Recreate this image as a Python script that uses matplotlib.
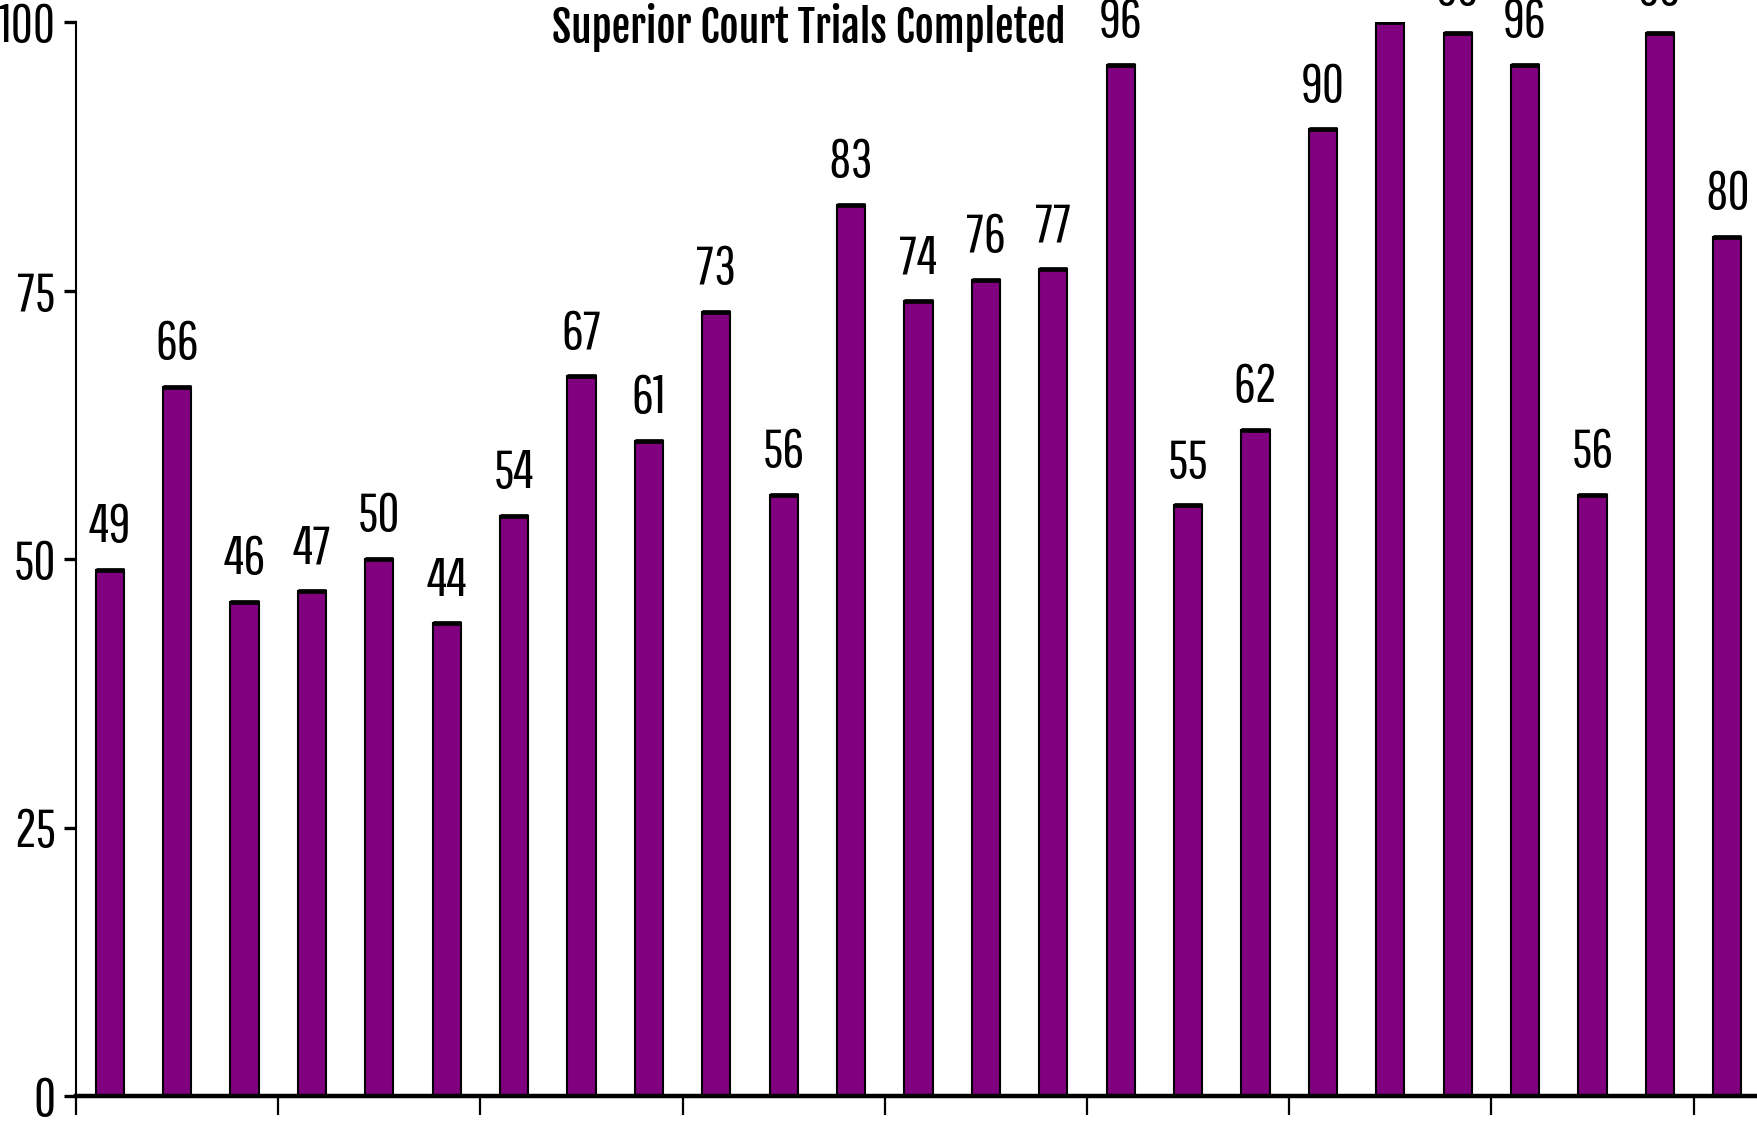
import matplotlib
matplotlib.use("Agg")
import matplotlib.pyplot as plt
import numpy as np

title = "Superior Court Trials Completed"
values = [49, 66, 46, 47, 50, 44, 54, 67, 61, 73, 56, 83, 74, 76, 77, 96,
          55, 62, 90, 100, 99, 96, 56, 99, 80]
yticks = [0, 25, 50, 75, 100]

NUM_FONT = ['Pathway Gothic One', 'Sofia Sans Extra Condensed', 'Liberation Sans', 'DejaVu Sans']
TITLE_FONT = ['Fjalla One', 'Roboto Condensed', 'Liberation Sans', 'DejaVu Sans']
plt.rcParams['font.family'] = NUM_FONT

fig = plt.figure(figsize=(17.57, 11.21), dpi=100)
W, H = 1757, 1121
ax = fig.add_axes([76 / W, 25 / H, (1761 - 76) / W, (1096 - 22) / H])

x = np.arange(len(values))
bw = 0.42
ax.bar(x, values, width=bw, color='#800080', edgecolor='black', linewidth=1.5, zorder=2)
ax.hlines(values, x - bw / 2, x + bw / 2, colors='black', linewidth=3.4, zorder=3)

for xi, v in zip(x, values):
    ax.annotate(str(v), (xi, v), xytext=(0, 20), textcoords='offset points',
                ha='center', va='baseline', fontsize=39, family=NUM_FONT)

ax.set_xlim(-0.5, len(values) - 0.5)
ax.set_ylim(0, 100)
ax.set_yticks(yticks)
ax.set_yticklabels([str(t) for t in yticks], fontsize=39, family=NUM_FONT)
ax.set_xticks(np.arange(-0.5, len(values), 3))
ax.set_xticklabels([])

ax.spines['top'].set_visible(False)
ax.spines['right'].set_visible(False)
ax.spines['left'].set_linewidth(1.5)
ax.spines['bottom'].set_linewidth(3.2)
ax.spines['bottom'].set_zorder(4)
ax.tick_params(axis='x', direction='out', length=14, width=1.6)
ax.tick_params(axis='y', direction='out', length=8.5, width=2.4, pad=6)

fig.text(809 / W, 1 - 43 / H, title, ha='center', va='baseline',
         fontsize=30, fontweight='bold', family=TITLE_FONT)

fig.savefig('out.png', dpi=100)
